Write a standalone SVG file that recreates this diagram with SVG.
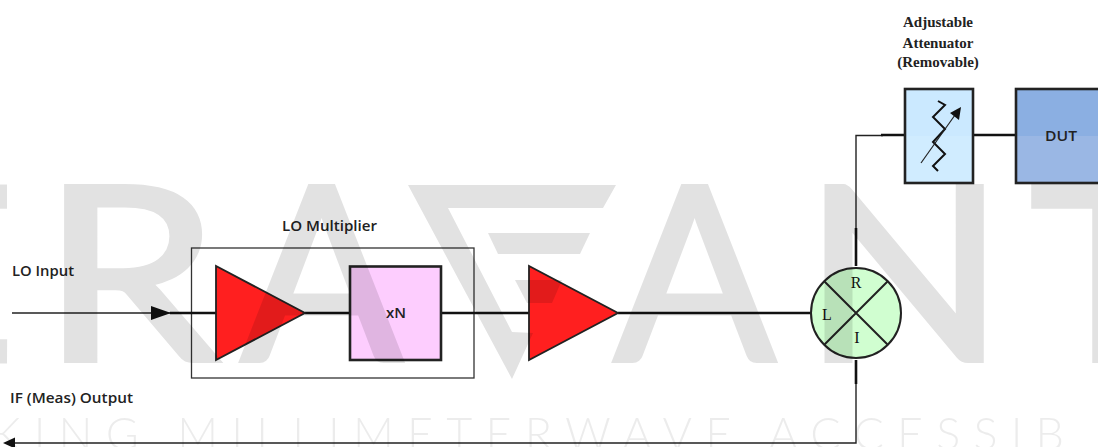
<svg xmlns="http://www.w3.org/2000/svg" width="1098" height="447" viewBox="0 0 1098 447">
<style>
.wm{font-family:"Lato","Open Sans",sans-serif;font-size:243px;font-weight:400;fill:#000;stroke:#000;stroke-width:5;}
.tag{font-family:"Lato","Open Sans",sans-serif;font-size:45px;font-weight:300;fill:#000;}
.lab{font-family:"Open Sans","Liberation Sans",sans-serif;font-size:14.5px;font-weight:600;fill:#222;}
.ser{font-family:"Liberation Serif",serif;font-size:15px;font-weight:700;fill:#222;text-anchor:middle;}
.port{font-family:"Liberation Serif",serif;font-size:16px;fill:#111;text-anchor:middle;}
.thin{fill:none;stroke:#222;stroke-width:1.4;}
.thick{fill:none;stroke:#111;stroke-width:2.6;}
.blk{stroke:#222;stroke-width:2.6;}
.tri{fill:#ff1f1f;stroke:#222;stroke-width:1.8;stroke-linejoin:miter;}
</style>
<defs>
<linearGradient id="dutFill" x1="0" y1="0" x2="0" y2="1"><stop offset="0.5" stop-color="#8bafe2"/><stop offset="0.5" stop-color="#9ab7e4"/></linearGradient>
<linearGradient id="attFill" x1="0" y1="0" x2="0" y2="1"><stop offset="0.5" stop-color="#cbe9ff"/><stop offset="0.5" stop-color="#d0ecff"/></linearGradient>
</defs>
<rect width="1098" height="447" fill="#fff"/>
<g id="lo-multiplier-box"><rect x="191.500" y="248" width="282.500" height="130" fill="none" stroke="#333" stroke-width="1.3"/></g>
<g id="connectors">
<path class="thin" d="M12 313H170"/>
<path class="thick" d="M170 313H216M305 313H350M441 313H529M618 313H811"/>
<polygon points="151,306 151,320 171,313" fill="#111"/>
<path class="thin" d="M856 228V135.500H883"/>
<path class="thick" d="M856 266V228M881 135H905M973 135H1016M856 360V384"/>
<path class="thin" d="M856 384V443H14"/>
<polygon points="3,443 15,437.500 15,448.500" fill="#111"/>
</g>
<g id="amp-1"><polygon class="tri" points="216,266 216,360 305,313"/></g>
<g id="multiplier"><rect class="blk" x="350" y="266.500" width="91" height="93.500" fill="#fdcdfe"/><text class="lab" x="386" y="318" textLength="20" lengthAdjust="spacingAndGlyphs">xN</text></g>
<g id="amp-2"><polygon class="tri" points="529,266 529,360 618,313"/></g>
<g id="mixer">
<circle cx="856" cy="313" r="45" fill="#d0fed0" stroke="#222" stroke-width="2"/>
<path d="M824 281L888 345M888 281L824 345" stroke="#222" stroke-width="2" fill="none"/>
<text class="port" x="856" y="288">R</text>
<text class="port" x="827" y="320">L</text>
<text class="port" x="857" y="343">I</text>
</g>
<g id="attenuator">
<rect class="blk" x="905" y="89" width="68" height="94" fill="url(#attFill)"/>
<path d="M938 101L945 105L933 117L945 129L933 142L945 154L933 166L938 171" fill="none" stroke="#111" stroke-width="2"/>
<path d="M921 163L955 115" fill="none" stroke="#222" stroke-width="1.2"/>
<polygon points="961,107 959,120 950,113" fill="#111"/>
</g>
<g id="dut"><rect class="blk" x="1016" y="89" width="90" height="94" fill="url(#dutFill)"/><text class="lab" x="1045" y="141" textLength="32" lengthAdjust="spacingAndGlyphs">DUT</text></g>
<g id="labels">
<text class="lab" x="12" y="276" textLength="62" lengthAdjust="spacingAndGlyphs">LO Input</text>
<text class="lab" x="282" y="231" textLength="95" lengthAdjust="spacingAndGlyphs">LO Multiplier</text>
<text class="lab" x="10" y="403" textLength="123" lengthAdjust="spacingAndGlyphs">IF (Meas) Output</text>
<text class="ser" x="938" y="27">Adjustable</text>
<text class="ser" x="938" y="48">Attenuator</text>
<text class="ser" x="938" y="67">(Removable)</text>
</g>
<g id="watermark" opacity="0.115">
<text class="wm" x="-125" y="360.500">E</text>
<text class="wm" transform="translate(41 360.500) scale(1.17 1)">R</text>
<text class="wm" transform="translate(241 360.500) scale(0.98 1)">A</text>
<path d="M408 185H616L603 208H448L512 332L533 333L512 379Z"/>
<path d="M488 233H590L580 254H498Z"/>
<path d="M515 280H562L552 303H527Z"/>
<text class="wm" transform="translate(614 360.500) scale(0.98 1)">A</text>
<text class="wm" transform="translate(803 360.500) scale(1.09 1)">N</text>
<text class="wm" transform="translate(1030 360.500) scale(1.08 1)">T</text>
<text class="tag" x="-8" y="450" textLength="1072" lengthAdjust="spacing" opacity="0.65">KING MILLIMETERWAVE ACCESSIB</text>
</g>
</svg>
